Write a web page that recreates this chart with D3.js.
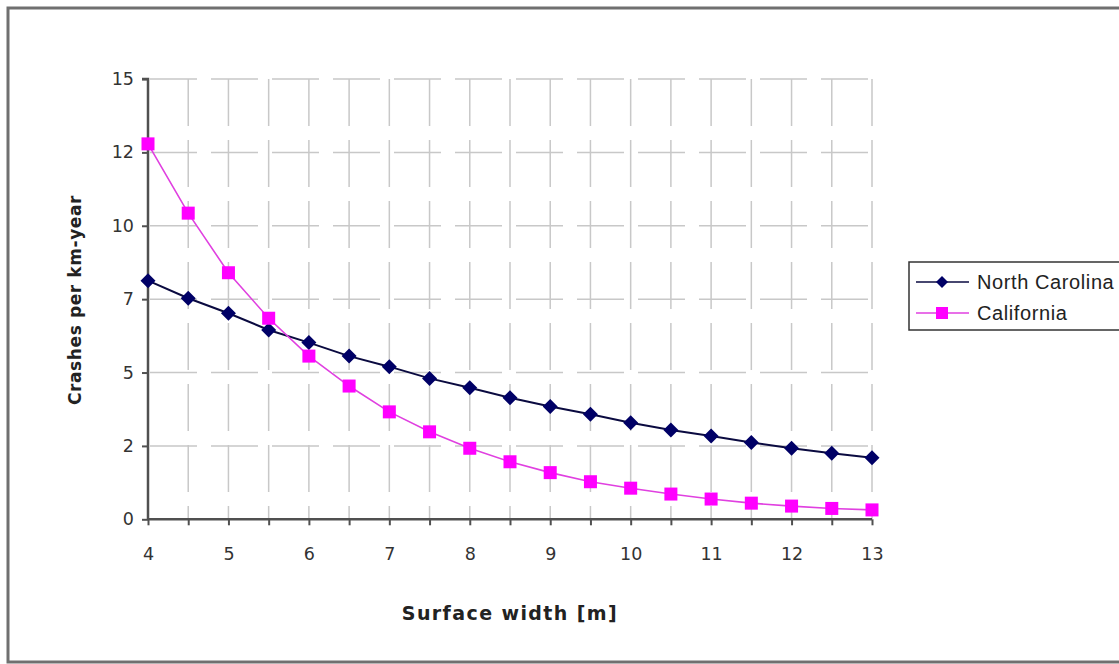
<!DOCTYPE html>
<html>
<head>
<meta charset="utf-8">
<script src="https://cdn.jsdelivr.net/npm/d3@7"></script>
<style>
  html, body { margin: 0; padding: 0; background: #fff; }
  svg { display: block; }
</style>
</head>
<body>
<svg id="chart" width="1119" height="664"></svg>
<script>
// Surface width (m) sampled every half metre
const widths = [4, 4.5, 5, 5.5, 6, 6.5, 7, 7.5, 8, 8.5, 9, 9.5, 10, 10.5, 11, 11.5, 12, 12.5, 13];

// Crashes per km-year for each state
const northCarolina = [8.13, 7.53, 7.02, 6.45, 6.02, 5.56, 5.20, 4.80, 4.48, 4.14, 3.84, 3.58, 3.29, 3.04, 2.84, 2.62, 2.42, 2.25, 2.10];
const california   = [12.79, 10.43, 8.40, 6.85, 5.56, 4.54, 3.66, 2.98, 2.42, 1.96, 1.59, 1.28, 1.06, 0.86, 0.69, 0.55, 0.45, 0.37, 0.32];

// Axis ticks and their printed labels
const yTicks = [0, 2.5, 5, 7.5, 10, 12.5, 15];
const yTickLabels = ["0", "2", "5", "7", "10", "12", "15"];
const xTicks = [4, 5, 6, 7, 8, 9, 10, 11, 12, 13];
const xMinorTicks = [4, 4.5, 5, 5.5, 6, 6.5, 7, 7.5, 8, 8.5, 9, 9.5, 10, 10.5, 11, 11.5, 12, 12.5, 13];

const seriesNames = ["North Carolina", "California"];

const svg = d3.select("#chart");
const sansFont = "DejaVu Sans, Verdana, sans-serif";

// Outer chart frame
svg.append("rect")
  .attr("x", 8).attr("y", 8)
  .attr("width", 1140).attr("height", 654)
  .attr("fill", "#fff")
  .attr("stroke", "#707070")
  .attr("stroke-width", 3);

const x = d3.scaleLinear().domain([4, 13]).range([148, 872]);
const y = d3.scaleLinear().domain([0, 15]).range([519.3, 79]);

// Dashed grid
const grid = svg.append("g").attr("stroke", "#c8c8c8").attr("stroke-width", 1.5)
  .attr("stroke-dasharray", "47,14");
grid.selectAll("line.h")
  .data(yTicks.filter(t => t > 0))
  .join("line")
  .attr("class", "h")
  .attr("x1", x(4) + 2).attr("x2", x(13))
  .attr("y1", d => y(d)).attr("y2", d => y(d));
grid.selectAll("line.v")
  .data(xMinorTicks.filter(t => t > 4))
  .join("line")
  .attr("class", "v")
  .attr("x1", d => x(d)).attr("x2", d => x(d))
  .attr("y1", y(15)).attr("y2", y(0));

// Y axis
const yAxis = d3.axisLeft(y)
  .tickValues(yTicks)
  .tickSize(6)
  .tickPadding(8)
  .tickFormat((d, i) => yTickLabels[i]);
const gy = svg.append("g").attr("transform", `translate(${x(4)},0)`).call(yAxis);
gy.select(".domain").attr("stroke", "#505050").attr("stroke-width", 2.5)
  .attr("d", `M-6,${y(15)}H0V${y(0)}`);
gy.selectAll(".tick line").attr("stroke", "#505050").attr("stroke-width", 2);
gy.selectAll(".tick text")
  .attr("font-family", sansFont)
  .attr("font-size", 17.5)
  .attr("fill", "#333");

// X axis: minor ticks every half metre, labels on whole metres
const xAxisMinor = d3.axisBottom(x).tickValues(xMinorTicks).tickSize(6).tickFormat("");
const gxm = svg.append("g").attr("transform", `translate(0,${y(0)})`).call(xAxisMinor);
gxm.select(".domain").attr("stroke", "#505050").attr("stroke-width", 2.5)
  .attr("d", `M${x(4)},0H${x(13)}`);
gxm.selectAll(".tick line").attr("stroke", "#505050").attr("stroke-width", 2);

const xAxis = d3.axisBottom(x).tickValues(xTicks).tickSize(0).tickPadding(28);
const gx = svg.append("g").attr("transform", `translate(0,${y(0)})`).call(xAxis);
gx.select(".domain").remove();
gx.selectAll(".tick text")
  .attr("font-family", sansFont)
  .attr("font-size", 17.5)
  .attr("fill", "#333");

// Axis titles
svg.append("text")
  .attr("x", 510).attr("y", 620)
  .attr("text-anchor", "middle")
  .attr("font-family", sansFont)
  .attr("font-weight", "bold")
  .attr("font-size", 19)
  .attr("letter-spacing", 1.4)
  .attr("fill", "#222")
  .text("Surface width [m]");

svg.append("text")
  .attr("transform", `translate(81,300) rotate(-90)`)
  .attr("text-anchor", "middle")
  .attr("font-family", sansFont)
  .attr("font-weight", "bold")
  .attr("font-size", 17)
  .attr("letter-spacing", 0.6)
  .attr("fill", "#222")
  .text("Crashes per km-year");

const line = d3.line().x(d => x(d[0])).y(d => y(d[1]));
const ncData = widths.map((w, i) => [w, northCarolina[i]]);
const caData = widths.map((w, i) => [w, california[i]]);

const navy = "#000066";
const magenta = "#ff00ff";
// Diamond marker centred on the origin
const diamondPath = r => `M0,${-r}L${r},0L0,${r}L${-r},0Z`;

// North Carolina series
svg.append("path").datum(ncData)
  .attr("fill", "none").attr("stroke", "#0a0a40").attr("stroke-width", 2)
  .attr("d", line);
svg.append("g").selectAll("path")
  .data(ncData)
  .join("path")
  .attr("transform", d => `translate(${x(d[0])},${y(d[1])})`)
  .attr("d", diamondPath(7.5))
  .attr("fill", navy);

// California series
svg.append("path").datum(caData)
  .attr("fill", "none").attr("stroke", "#e040e0").attr("stroke-width", 1.6)
  .attr("d", line);
svg.append("g").selectAll("rect")
  .data(caData)
  .join("rect")
  .attr("x", d => x(d[0]) - 6.5).attr("y", d => y(d[1]) - 6.5)
  .attr("width", 13).attr("height", 13)
  .attr("fill", magenta);

// Legend
const legend = svg.append("g");
legend.append("rect")
  .attr("x", 909).attr("y", 262)
  .attr("width", 230).attr("height", 68)
  .attr("fill", "#fff")
  .attr("stroke", "#333")
  .attr("stroke-width", 1.5);

const legendRows = [
  { name: seriesNames[0], color: "#0a0a40", fill: navy, shape: "diamond", yy: 282 },
  { name: seriesNames[1], color: "#e040e0", fill: magenta, shape: "square", yy: 313 }
];
legendRows.forEach(r => {
  legend.append("line")
    .attr("x1", 916).attr("x2", 969)
    .attr("y1", r.yy).attr("y2", r.yy)
    .attr("stroke", r.color).attr("stroke-width", 1.6);
  if (r.shape === "diamond") {
    legend.append("path")
      .attr("transform", `translate(942,${r.yy})`)
      .attr("d", diamondPath(6))
      .attr("fill", r.fill);
  } else {
    legend.append("rect")
      .attr("x", 936).attr("y", r.yy - 6)
      .attr("width", 12).attr("height", 12)
      .attr("fill", r.fill);
  }
  legend.append("text")
    .attr("x", 977).attr("y", r.yy + 7)
    .attr("font-family", "Liberation Sans, Arial, sans-serif")
    .attr("font-size", 20)
    .attr("letter-spacing", 0.6)
    .attr("fill", "#222")
    .text(r.name);
});
</script>
</body>
</html>
